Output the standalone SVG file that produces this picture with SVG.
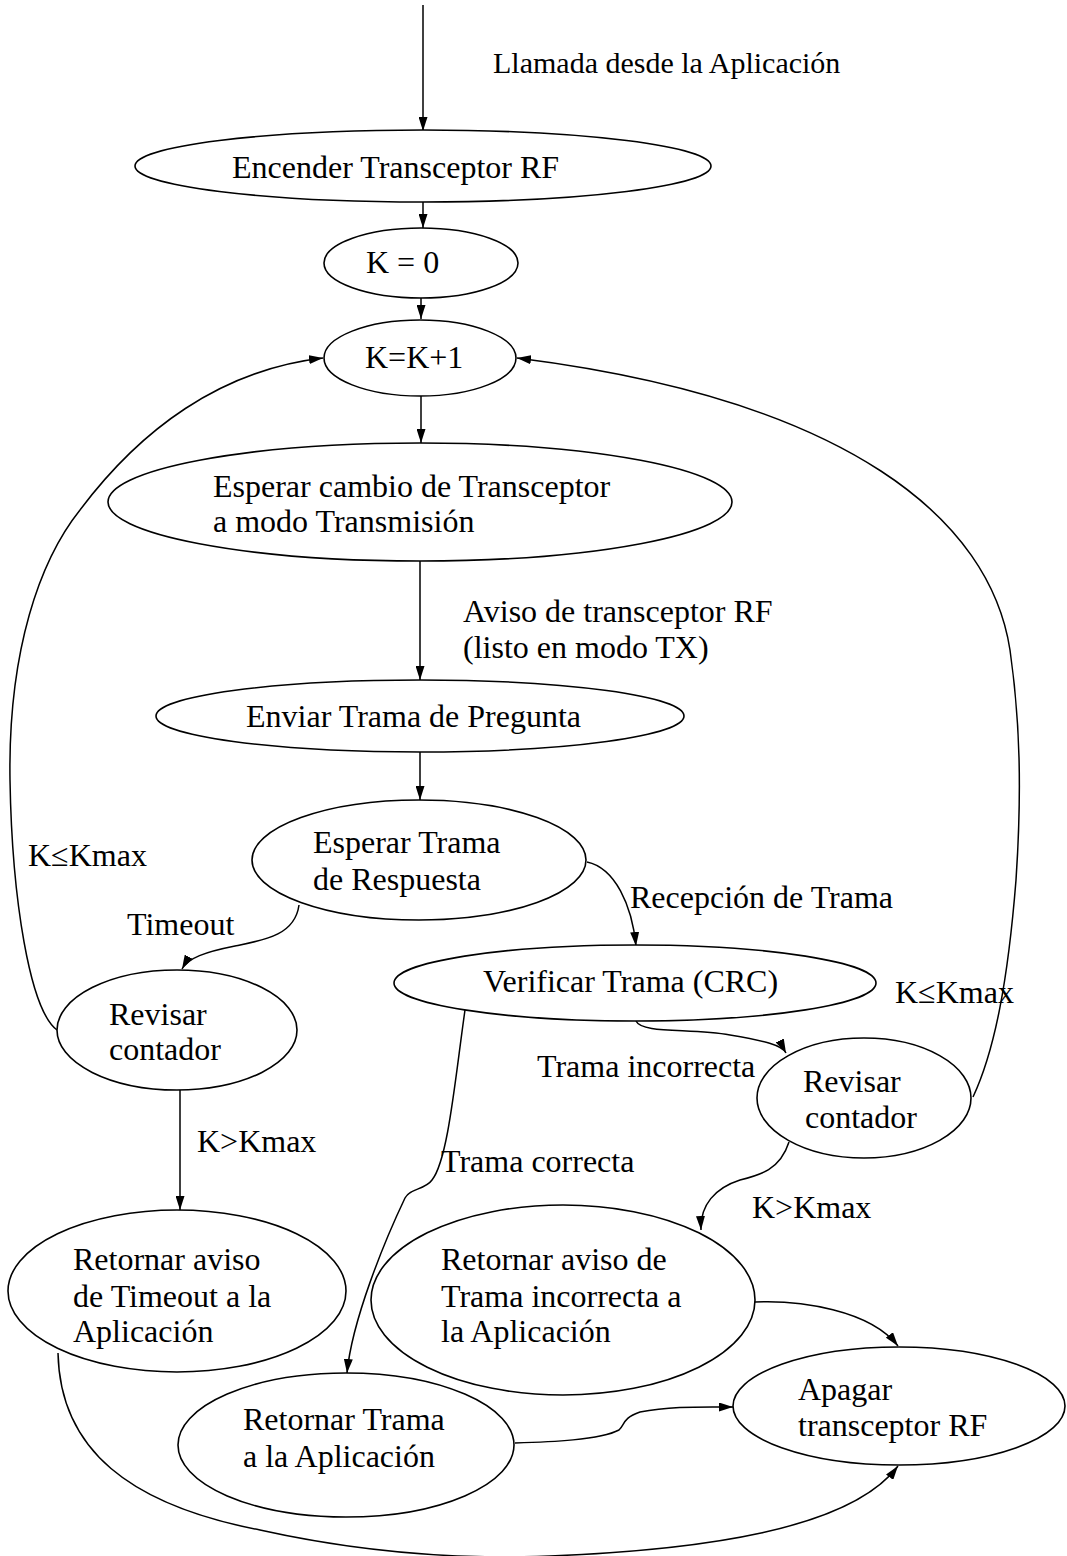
<svg xmlns="http://www.w3.org/2000/svg" width="1067" height="1556" viewBox="0 0 1067 1556">
  <defs>
    <marker id="arrow" viewBox="0 0 14 9" refX="14" refY="4.5" markerWidth="14" markerHeight="9" markerUnits="userSpaceOnUse" orient="auto">
      <path d="M0,0 L14,4.5 L0,9 z" fill="#000"/>
    </marker>
  </defs>
  <style>
    .node ellipse { fill: #fff; stroke: #000; stroke-width: 1.6; }
    .edge { fill: none; stroke: #000; stroke-width: 1.5; marker-end: url(#arrow); }
    text { font-family: "Liberation Serif", "Times New Roman", serif; font-size: 32px; fill: #000; }
    .small { font-size: 30px; }
  </style>
  <rect width="1067" height="1556" fill="#fff"/>

  <!-- connectors -->
  <g id="connectors">
    <path class="edge" d="M423,5 L423,131"/>
    <path class="edge" d="M423,202 L423,228"/>
    <path class="edge" d="M421,298 L421,319"/>
    <path class="edge" d="M421,396 L421,443"/>
    <path class="edge" d="M420,561 L420,680"/>
    <path class="edge" d="M420,752 L420,800"/>
    <!-- retry loops back to K=K+1 -->
    <path class="edge" d="M57,1030 C30,1010 12,900 10,780 C8,650 40,560 80,510 C140,430 220,370 323,358"/>
    <path class="edge" d="M973,1097 C995,1050 1008,980 1016,880 C1022,790 1020,720 1010,650 C990,520 850,400 517,358"/>
    <!-- timeout / reception -->
    <path class="edge" d="M299,905 C295,935 265,940 235,946 C205,952 188,958 182,969"/>
    <path class="edge" d="M587,862 C615,868 632,905 636,946"/>
    <!-- frame check results -->
    <path class="edge" d="M636,1021 C642,1034 690,1028 730,1035 C765,1041 782,1045 786,1053"/>
    <path class="edge" d="M465,1010 C455,1080 448,1160 432,1180 C425,1190 410,1188 405,1198 C385,1240 352,1320 347,1373"/>
    <path class="edge" d="M180,1090 L180,1210"/>
    <path class="edge" d="M789,1142 C780,1170 760,1175 740,1180 C715,1188 700,1205 701,1230"/>
    <!-- into Apagar transceptor RF -->
    <path class="edge" d="M755,1302 C800,1300 870,1310 898,1346"/>
    <path class="edge" d="M515,1443 C550,1442 600,1440 619,1430 C625,1425 622,1418 640,1412 C670,1406 700,1407 733,1407"/>
    <path class="edge" d="M58,1353 C60,1450 130,1505 260,1530 C350,1550 450,1560 550,1556 C700,1550 850,1530 898,1466"/>
  </g>

  <!-- edge labels -->
  <g id="labels">
    <text class="small" x="493" y="73">Llamada desde la Aplicación</text>
    <text x="463" y="622">Aviso de transceptor RF</text>
    <text x="463" y="658">(listo en modo TX)</text>
    <text x="28" y="866">K≤Kmax</text>
    <text x="127" y="935">Timeout</text>
    <text x="630" y="908">Recepción de Trama</text>
    <text x="895" y="1003">K≤Kmax</text>
    <text x="537" y="1077">Trama incorrecta</text>
    <text x="197" y="1152">K&gt;Kmax</text>
    <text x="441" y="1172">Trama correcta</text>
    <text x="752" y="1218">K&gt;Kmax</text>
  </g>

  <!-- nodes -->
  <g id="n-encender" class="node">
    <ellipse cx="423" cy="166" rx="288" ry="36"/>
    <text x="232" y="178">Encender Transceptor RF</text>
  </g>
  <g id="n-k0" class="node">
    <ellipse cx="421" cy="263" rx="97" ry="35"/>
    <text x="366" y="273">K = 0</text>
  </g>
  <g id="n-kinc" class="node">
    <ellipse cx="420" cy="358" rx="96" ry="38"/>
    <text x="365" y="368">K=K+1</text>
  </g>
  <g id="n-esperar-cambio" class="node">
    <ellipse cx="420" cy="502" rx="312" ry="59"/>
    <text x="213" y="497">Esperar cambio de Transceptor</text>
    <text x="213" y="532">a modo Transmisión</text>
  </g>
  <g id="n-enviar" class="node">
    <ellipse cx="420" cy="716" rx="264" ry="36"/>
    <text x="246" y="727">Enviar Trama de Pregunta</text>
  </g>
  <g id="n-esperar-resp" class="node">
    <ellipse cx="419" cy="860" rx="167" ry="60"/>
    <text x="313" y="853">Esperar Trama</text>
    <text x="313" y="890">de Respuesta</text>
  </g>
  <g id="n-verificar" class="node">
    <ellipse cx="635" cy="983" rx="241" ry="38"/>
    <text x="483" y="992">Verificar Trama (CRC)</text>
  </g>
  <g id="n-revisar-1" class="node">
    <ellipse cx="177" cy="1030" rx="120" ry="60"/>
    <text x="109" y="1025">Revisar</text>
    <text x="109" y="1060">contador</text>
  </g>
  <g id="n-revisar-2" class="node">
    <ellipse cx="864" cy="1098" rx="107" ry="60"/>
    <text x="803" y="1092">Revisar</text>
    <text x="805" y="1128">contador</text>
  </g>
  <g id="n-ret-timeout" class="node">
    <ellipse cx="177" cy="1291" rx="169" ry="81"/>
    <text x="73" y="1270">Retornar aviso</text>
    <text x="73" y="1307">de Timeout a la</text>
    <text x="73" y="1342">Aplicación</text>
  </g>
  <g id="n-ret-incorrecta" class="node">
    <ellipse cx="563" cy="1300" rx="192" ry="95"/>
    <text x="441" y="1270">Retornar aviso de</text>
    <text x="441" y="1307">Trama incorrecta a</text>
    <text x="441" y="1342">la Aplicación</text>
  </g>
  <g id="n-ret-trama" class="node">
    <ellipse cx="346" cy="1445" rx="168" ry="72"/>
    <text x="243" y="1430">Retornar Trama</text>
    <text x="243" y="1467">a la Aplicación</text>
  </g>
  <g id="n-apagar" class="node">
    <ellipse cx="899" cy="1406" rx="166" ry="59"/>
    <text x="798" y="1400">Apagar</text>
    <text x="798" y="1436">transceptor RF</text>
  </g>
</svg>
